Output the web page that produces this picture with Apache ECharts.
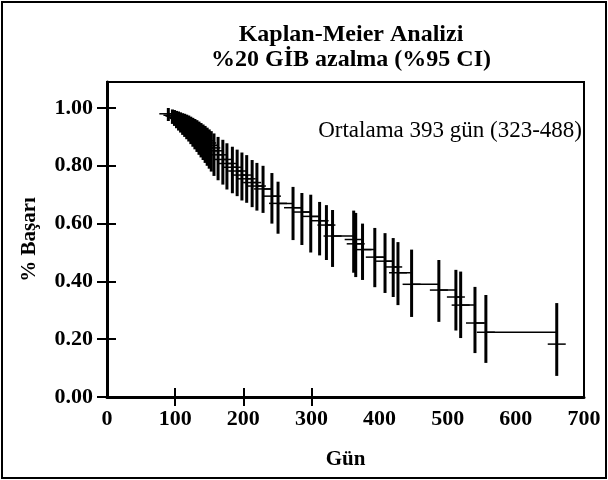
<!DOCTYPE html>
<html>
<head>
<meta charset="utf-8">
<script src="https://cdn.jsdelivr.net/npm/echarts@6/dist/echarts.min.js"></script>
<style>html,body{margin:0;padding:0;background:#fff}#c{width:608px;height:480px}</style>
</head>
<body>
<div id="c"></div>
<script>
// Kaplan-Meier estimates (time in days, survival, 95% CI)
const times    = [90, 96, 99, 102, 105, 108, 111, 114, 117, 120, 123, 126, 129, 132, 135, 138, 141, 144, 147, 150, 153, 157, 163, 170, 176, 184, 191, 198, 205, 213, 220, 229, 242, 251, 273, 286, 299, 312, 322, 331, 362, 365, 375, 393, 408, 420, 427, 447, 487, 512, 519, 540, 556, 660];
const survival = [0.98, 0.975, 0.972, 0.968, 0.964, 0.96, 0.956, 0.952, 0.947, 0.941, 0.935, 0.929, 0.922, 0.915, 0.908, 0.901, 0.894, 0.887, 0.879, 0.871, 0.862, 0.852, 0.838, 0.822, 0.808, 0.795, 0.782, 0.768, 0.755, 0.742, 0.73, 0.72, 0.695, 0.67, 0.655, 0.64, 0.625, 0.61, 0.595, 0.557, 0.545, 0.53, 0.51, 0.484, 0.47, 0.45, 0.43, 0.39, 0.37, 0.346, 0.318, 0.256, 0.224, 0.183];
const ciLower  = [0.955, 0.945, 0.938, 0.93, 0.922, 0.915, 0.907, 0.9, 0.892, 0.884, 0.875, 0.866, 0.857, 0.848, 0.838, 0.829, 0.82, 0.81, 0.8, 0.79, 0.78, 0.765, 0.75, 0.735, 0.718, 0.705, 0.695, 0.68, 0.672, 0.657, 0.645, 0.637, 0.60, 0.565, 0.543, 0.526, 0.50, 0.49, 0.474, 0.45, 0.43, 0.415, 0.405, 0.38, 0.36, 0.346, 0.318, 0.277, 0.26, 0.23, 0.204, 0.152, 0.118, 0.073];
const ciUpper  = [1.00, 0.995, 0.993, 0.99, 0.988, 0.985, 0.982, 0.98, 0.977, 0.974, 0.97, 0.966, 0.962, 0.958, 0.953, 0.948, 0.943, 0.938, 0.932, 0.926, 0.92, 0.912, 0.90, 0.89, 0.878, 0.866, 0.856, 0.846, 0.837, 0.82, 0.81, 0.80, 0.775, 0.745, 0.727, 0.706, 0.70, 0.675, 0.664, 0.647, 0.645, 0.637, 0.60, 0.585, 0.567, 0.55, 0.536, 0.51, 0.474, 0.44, 0.434, 0.381, 0.353, 0.325];
const xTickValues = [0, 100, 200, 300, 400, 500, 600, 700];
const xTickMarks = [100, 200, 300];
const yTickValues = [0, 0.2, 0.4, 0.6, 0.8, 1.0];

const titleText = 'Kaplan-Meier Analizi';
const subtitleText = '%20 GİB azalma (%95 CI)';
const noteText = 'Ortalama 393 gün (323-488)';
const xName = 'Gün';
const yName = '% Başarı';

const FONT = '"Liberation Serif", "Times New Roman", serif';

const stepData = times.map((t, i) => [t, survival[i]]);
const ciData = times.map((t, i) => [t, survival[i], ciLower[i], ciUpper[i]]);

const chart = echarts.init(document.getElementById('c'), null, {renderer: 'canvas'});
const labelStyle = {color: '#000', fontFamily: FONT, fontWeight: 'bold', fontSize: 22};
const nameStyle = {color: '#000', fontFamily: FONT, fontWeight: 'bold', fontSize: 21};

chart.setOption({
  animation: false,
  backgroundColor: '#fff',
  title: [
    {text: titleText, left: 346, top: 18, textAlign: 'center',
     textStyle: {fontFamily: FONT, fontWeight: 'bold', fontSize: 24, color: '#000'}},
    {text: subtitleText, left: 346, top: 43, textAlign: 'center',
     textStyle: {fontFamily: FONT, fontWeight: 'bold', fontSize: 24, color: '#000'}},
    {text: noteText, right: 21, top: 114,
     textStyle: {fontFamily: FONT, fontWeight: 'normal', fontSize: 23, color: '#000'}}
  ],
  graphic: [
    {type: 'rect', shape: {x: 2, y: 2, width: 604, height: 476},
     style: {fill: 'none', stroke: '#000', lineWidth: 2}, silent: true}
  ],
  grid: {left: 107, right: 24, top: 82, bottom: 83, show: true, borderColor: '#000', borderWidth: 2, backgroundColor: 'transparent'},
  xAxis: [
    {type: 'value', min: 0, max: 700, interval: 100, position: 'bottom',
     name: xName, nameLocation: 'middle', nameGap: 52,
     nameTextStyle: nameStyle,
     axisLine: {show: true, lineStyle: {color: '#000', width: 3}},
     axisTick: {show: true, customValues: xTickMarks, length: 9, lineStyle: {color: '#000', width: 2}},
     axisLabel: Object.assign({margin: 11, customValues: xTickValues, formatter: v => String(v)}, labelStyle),
     splitLine: {show: false}},
    {type: 'value', min: 0, max: 700, interval: 100, position: 'bottom',
     axisLine: {show: false},
     axisTick: {show: true, inside: true, customValues: xTickMarks, length: 9, lineStyle: {color: '#000', width: 2}},
     axisLabel: {show: false}, splitLine: {show: false}}
  ],
  yAxis: [
    {type: 'value', min: 0, max: 1.09, position: 'left',
     name: yName, nameLocation: 'middle', nameGap: 67, nameRotate: 90,
     nameTextStyle: nameStyle,
     axisLine: {show: true, lineStyle: {color: '#000', width: 3}},
     axisTick: {show: true, customValues: yTickValues, length: 10, lineStyle: {color: '#000', width: 2}},
     axisLabel: Object.assign({margin: 14, customValues: yTickValues, formatter: v => v.toFixed(2)}, labelStyle),
     splitLine: {show: false}},
    {type: 'value', min: 0, max: 1.09, position: 'left',
     axisLine: {show: false},
     axisTick: {show: true, inside: true, customValues: yTickValues, length: 9, lineStyle: {color: '#000', width: 2}},
     axisLabel: {show: false}, splitLine: {show: false}}
  ],
  series: [
    {type: 'line', step: 'end', data: stepData, showSymbol: false, symbol: 'none',
     lineStyle: {color: '#000', width: 1.5}, xAxisIndex: 0, yAxisIndex: 0, z: 3},
    {type: 'custom', data: ciData, xAxisIndex: 0, yAxisIndex: 0, z: 4,
     renderItem: function (params, api) {
       const t = api.value(0), s = api.value(1), lo = api.value(2), hi = api.value(3);
       const pLo = api.coord([t, lo]);
       const pHi = api.coord([t, hi]);
       const pS = api.coord([t, s]);
       return {
         type: 'group',
         children: [
           {type: 'line', shape: {x1: pLo[0], y1: pLo[1], x2: pHi[0], y2: pHi[1]},
            style: {stroke: '#000', lineWidth: 3}},
           {type: 'line', shape: {x1: pS[0] - 9, y1: pS[1], x2: pS[0] + 9, y2: pS[1]},
            style: {stroke: '#000', lineWidth: 1.5}}
         ]
       };
     }}
  ]
});
</script>
</body>
</html>
